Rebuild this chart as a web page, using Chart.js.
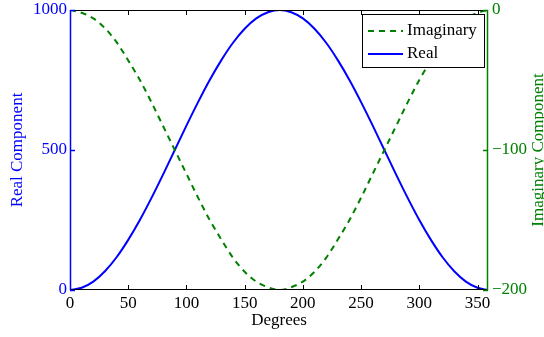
<!DOCTYPE html>
<html lang="en">
<head>
  <meta charset="UTF-8" />
  <title>Real and Imaginary Components</title>
  <script src="https://cdn.jsdelivr.net/npm/chart.js@4.4.0/dist/chart.umd.min.js"></script>
  <style>
    * { margin: 0; padding: 0; box-sizing: border-box; }
    body { background: #fff; }
    .wrap { width: 544px; height: 337px; }
  </style>
</head>
<body>
  <div class="wrap"><canvas id="chart"></canvas></div>

  <script>
    // values
    const degrees = [0, 10, 20, 30, 40, 50, 60, 70, 80, 90, 100, 110, 120, 130, 140, 150, 160, 170, 180,
      190, 200, 210, 220, 230, 240, 250, 260, 270, 280, 290, 300, 310, 320, 330, 340, 350, 359];
    const realVals = [0, 8, 30, 67, 117, 179, 250, 329, 413, 500, 587, 671, 750, 821, 883, 933, 970, 992, 1000,
      992, 970, 933, 883, 821, 750, 671, 587, 500, 413, 329, 250, 179, 117, 67, 30, 8, 0];
    const imagVals = [0, -2, -6, -13, -23, -36, -50, -66, -83, -100, -117, -134, -150, -164, -177, -187, -194, -198, -200,
      -198, -194, -187, -177, -164, -150, -134, -117, -100, -83, -66, -50, -36, -23, -13, -6, -2, 0];
    const xTicks = [0, 50, 100, 150, 200, 250, 300, 350];
    const realTicks = [0, 500, 1000];
    const imagTicks = [-200, -100, 0];

    const BLUE = "#0000ff";
    const GREEN = "#008000";
    const FONT = "'Liberation Serif', 'Times New Roman', serif";

    // frame, inward ticks, axis titles and boxed legend
    const decor = {
      id: "decor",
      afterDatasetsDraw(chart) {
        const { ctx, chartArea: a, scales } = chart;
        const L = a.left, R = a.right, T = a.top, B = a.bottom;
        ctx.save();
        ctx.lineWidth = 1;

        ctx.strokeStyle = "#000";
        ctx.beginPath();
        ctx.moveTo(L, T + 0.5); ctx.lineTo(R, T + 0.5);
        ctx.moveTo(L, B - 0.5); ctx.lineTo(R, B - 0.5);
        xTicks.forEach(v => {
          const px = Math.round(scales.x.getPixelForValue(v)) + 0.5;
          ctx.moveTo(px, B); ctx.lineTo(px, B - 5);
          ctx.moveTo(px, T); ctx.lineTo(px, T + 5);
        });
        ctx.stroke();

        ctx.strokeStyle = BLUE;
        ctx.lineWidth = 1.5;
        ctx.beginPath();
        ctx.moveTo(L + 0.5, T); ctx.lineTo(L + 0.5, B);
        realTicks.forEach(v => {
          const py = Math.round(scales.y.getPixelForValue(v)) + 0.5;
          ctx.moveTo(L, py); ctx.lineTo(L + 5, py);
        });
        ctx.stroke();

        ctx.strokeStyle = GREEN;
        ctx.beginPath();
        ctx.moveTo(R - 0.5, T); ctx.lineTo(R - 0.5, B);
        imagTicks.forEach(v => {
          const py = Math.round(scales.y2.getPixelForValue(v)) + 0.5;
          ctx.moveTo(R, py); ctx.lineTo(R - 5, py);
        });
        ctx.stroke();

        // axis titles
        ctx.font = "17px " + FONT;
        ctx.textAlign = "center";
        ctx.textBaseline = "middle";
        ctx.fillStyle = "#000";
        ctx.fillText("Degrees", (L + R) / 2, 321);

        ctx.save();
        ctx.translate(18, (T + B) / 2);
        ctx.rotate(-Math.PI / 2);
        ctx.fillStyle = BLUE;
        ctx.fillText("Real Component", 0, 0);
        ctx.restore();

        ctx.save();
        ctx.translate(539, (T + B) / 2);
        ctx.rotate(-Math.PI / 2);
        ctx.fillStyle = GREEN;
        ctx.fillText("Imaginary Component", 0, 0);
        ctx.restore();

        // legend
        const bx = 362, by = 14, bw = 122, bh = 53;
        ctx.fillStyle = "#fff";
        ctx.fillRect(bx, by, bw, bh);
        ctx.strokeStyle = "#000";
        ctx.lineWidth = 1;
        ctx.strokeRect(bx + 0.5, by + 0.5, bw, bh);
        const rows = [
          { label: "Imaginary", color: GREEN, dash: [6, 5], y: by + 17 },
          { label: "Real", color: BLUE, dash: [], y: by + 40 }
        ];
        rows.forEach(r => {
          ctx.strokeStyle = r.color;
          ctx.lineWidth = 2;
          ctx.setLineDash(r.dash);
          ctx.beginPath();
          ctx.moveTo(bx + 6, r.y); ctx.lineTo(bx + 41, r.y);
          ctx.stroke();
          ctx.setLineDash([]);
          ctx.fillStyle = "#000";
          ctx.textAlign = "left";
          ctx.fillText(r.label, bx + 45, r.y);
        });
        ctx.restore();
      }
    };

    const noPad = s => { s.paddingTop = 0; s.paddingBottom = 0; s.paddingLeft = 0; s.paddingRight = 0; };

    new Chart(document.getElementById("chart"), {
      type: "line",
      data: {
        datasets: [
          {
            label: "Imaginary",
            data: degrees.map((d, i) => ({ x: d, y: imagVals[i] })),
            yAxisID: "y2",
            borderColor: GREEN,
            borderWidth: 2,
            borderDash: [6, 5],
            pointRadius: 0,
            cubicInterpolationMode: "monotone",
            fill: false
          },
          {
            label: "Real",
            data: degrees.map((d, i) => ({ x: d, y: realVals[i] })),
            yAxisID: "y",
            borderColor: BLUE,
            borderWidth: 2,
            pointRadius: 0,
            cubicInterpolationMode: "monotone",
            fill: false
          }
        ]
      },
      options: {
        responsive: true,
        maintainAspectRatio: false,
        animation: false,
        layout: { padding: { top: 10, left: 0, right: 0, bottom: 0 } },
        plugins: { legend: { display: false }, tooltip: { enabled: false } },
        scales: {
          x: {
            type: "linear",
            min: 0, max: 359,
            grid: { display: false, drawTicks: false },
            border: { display: false },
            afterFit: s => { noPad(s); s.height = 47; },
            ticks: {
              stepSize: 50, includeBounds: false, padding: 3,
              color: "#000", font: { family: FONT, size: 17 },
              maxRotation: 0, callback: v => String(v)
            }
          },
          y: {
            position: "left",
            min: 0, max: 1000,
            grid: { display: false, drawTicks: false },
            border: { display: false },
            afterFit: s => { noPad(s); s.width = 70; },
            ticks: {
              stepSize: 500, padding: 3,
              color: BLUE, font: { family: FONT, size: 17 },
              callback: v => String(v)
            }
          },
          y2: {
            position: "right",
            min: -200, max: 0,
            grid: { display: false, drawTicks: false },
            border: { display: false },
            afterFit: s => { noPad(s); s.width = 56; },
            ticks: {
              stepSize: 100, padding: 4,
              color: GREEN, font: { family: FONT, size: 17 },
              callback: v => String(v).replace("-", "\u2212")
            }
          }
        }
      },
      plugins: [decor]
    });
  </script>
</body>
</html>
